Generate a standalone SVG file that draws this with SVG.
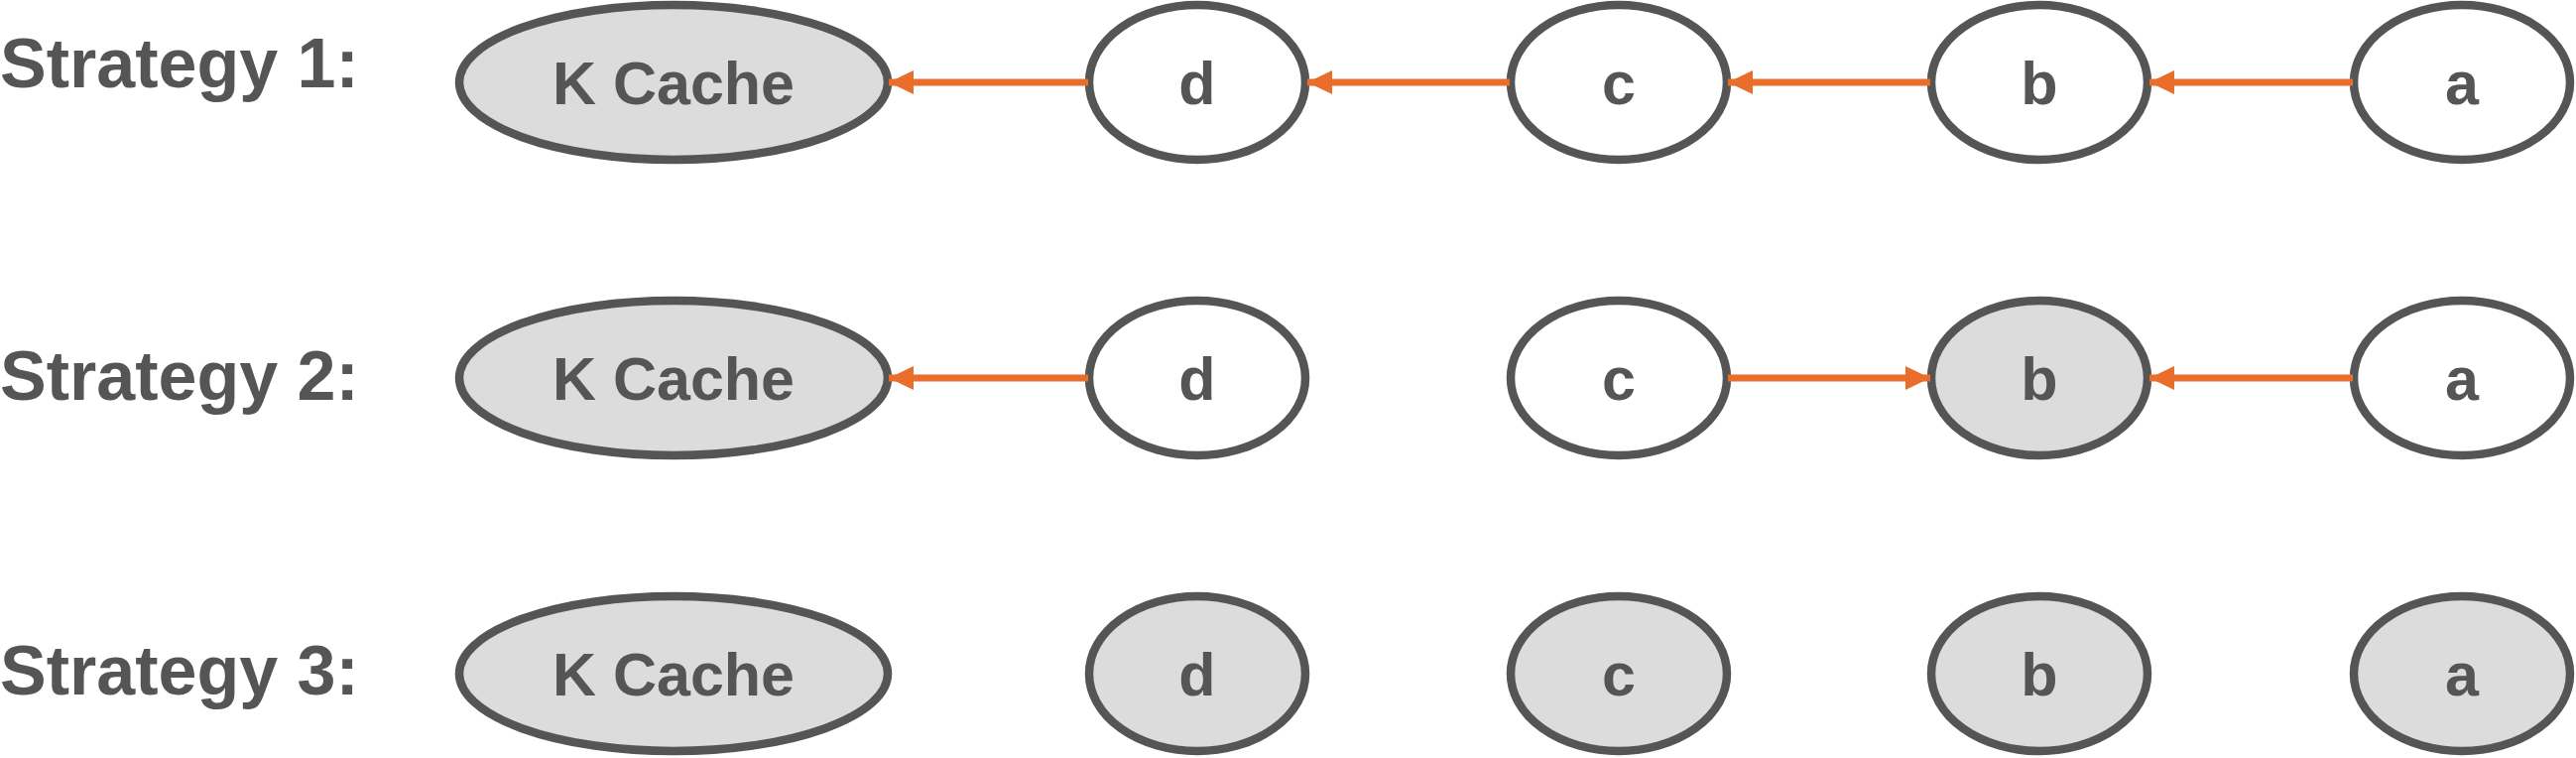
<svg xmlns="http://www.w3.org/2000/svg" width="2597" height="764" viewBox="0 0 2597 764">
  <style>
    .lbl { font-family: "Liberation Sans", Arial, sans-serif; font-weight: bold; fill: #555555; }
    .title { font-size: 70px; }
    .ntxt { font-size: 61px; text-anchor: middle; }
    .node { stroke: #555555; stroke-width: 8.5; }
    .white { fill: #ffffff; }
    .gray { fill: #dcdcdc; }
    .edge { stroke: #e96d2b; stroke-width: 7; fill: none; marker-end: url(#arrow); }
  </style>
  <defs>
    <marker id="arrow" markerUnits="userSpaceOnUse" markerWidth="25" markerHeight="24" refX="25" refY="12" orient="auto">
      <path d="M0,0 L25,12 L0,24 z" fill="#e96d2b"/>
    </marker>
  </defs>
  <rect width="2597" height="764" fill="#ffffff"/>

  <g id="titles">
    <text class="lbl title" x="0" y="88">Strategy 1:</text>
    <text class="lbl title" x="0" y="403">Strategy 2:</text>
    <text class="lbl title" x="0" y="700">Strategy 3:</text>
  </g>

  <!-- Row 1 -->
  <g id="r1-kcache"><ellipse class="node gray" cx="679" cy="83" rx="216" ry="78"/><text class="lbl ntxt" x="679" y="104.5">K Cache</text></g>
  <g id="r1-d"><ellipse class="node white" cx="1207" cy="83" rx="109" ry="78"/><text class="lbl ntxt" x="1207" y="104.5">d</text></g>
  <g id="r1-c"><ellipse class="node white" cx="1632" cy="83" rx="109" ry="78"/><text class="lbl ntxt" x="1632" y="104.5">c</text></g>
  <g id="r1-b"><ellipse class="node white" cx="2056" cy="83" rx="109" ry="78"/><text class="lbl ntxt" x="2056" y="104.5">b</text></g>
  <g id="r1-a"><ellipse class="node white" cx="2482" cy="83" rx="109" ry="78"/><text class="lbl ntxt" x="2482" y="104.5">a</text></g>

  <!-- Row 2 -->
  <g id="r2-kcache"><ellipse class="node gray" cx="679" cy="381" rx="216" ry="78"/><text class="lbl ntxt" x="679" y="402.5">K Cache</text></g>
  <g id="r2-d"><ellipse class="node white" cx="1207" cy="381" rx="109" ry="78"/><text class="lbl ntxt" x="1207" y="402.5">d</text></g>
  <g id="r2-c"><ellipse class="node white" cx="1632" cy="381" rx="109" ry="78"/><text class="lbl ntxt" x="1632" y="402.5">c</text></g>
  <g id="r2-b"><ellipse class="node gray" cx="2056" cy="381" rx="109" ry="78"/><text class="lbl ntxt" x="2056" y="402.5">b</text></g>
  <g id="r2-a"><ellipse class="node white" cx="2482" cy="381" rx="109" ry="78"/><text class="lbl ntxt" x="2482" y="402.5">a</text></g>

  <!-- Row 3 -->
  <g id="r3-kcache"><ellipse class="node gray" cx="679" cy="679" rx="216" ry="78"/><text class="lbl ntxt" x="679" y="700.5">K Cache</text></g>
  <g id="r3-d"><ellipse class="node gray" cx="1207" cy="679" rx="109" ry="78"/><text class="lbl ntxt" x="1207" y="700.5">d</text></g>
  <g id="r3-c"><ellipse class="node gray" cx="1632" cy="679" rx="109" ry="78"/><text class="lbl ntxt" x="1632" y="700.5">c</text></g>
  <g id="r3-b"><ellipse class="node gray" cx="2056" cy="679" rx="109" ry="78"/><text class="lbl ntxt" x="2056" y="700.5">b</text></g>
  <g id="r3-a"><ellipse class="node gray" cx="2482" cy="679" rx="109" ry="78"/><text class="lbl ntxt" x="2482" y="700.5">a</text></g>

  <g id="connectors">
    <line class="edge" x1="1097" y1="83" x2="896" y2="83"/>
    <line class="edge" x1="1522" y1="83" x2="1318" y2="83"/>
    <line class="edge" x1="1946" y1="83" x2="1742" y2="83"/>
    <line class="edge" x1="2372" y1="83" x2="2167" y2="83"/>

    <line class="edge" x1="1097" y1="381" x2="896" y2="381"/>
    <line class="edge" x1="1742" y1="381" x2="1946" y2="381"/>
    <line class="edge" x1="2372" y1="381" x2="2167" y2="381"/>
  </g>
</svg>
